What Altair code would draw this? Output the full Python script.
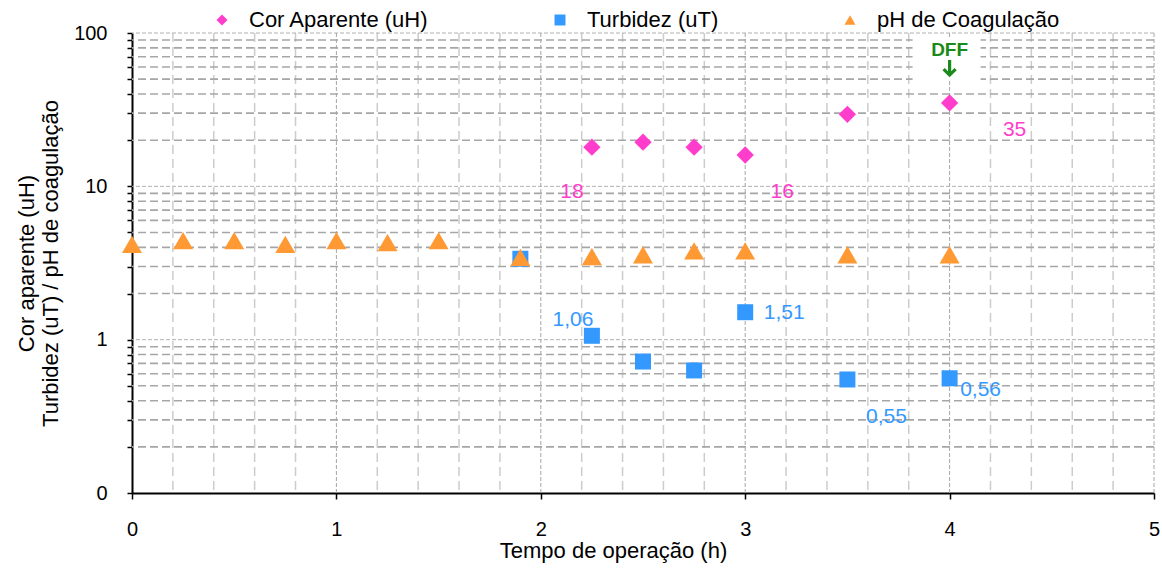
import altair as alt
import pandas as pd

# Operating time (h) and measurements per series
t_cor = [2.25, 2.5, 2.75, 3.0, 3.5, 4.0]
cor = [18, 19.4, 18, 16, 29.5, 35]

t_turb = [1.9, 2.25, 2.5, 2.75, 3.0, 3.5, 4.0]
turb = [3.37, 1.06, 0.72, 0.63, 1.51, 0.55, 0.56]

t_ph = [0, 0.25, 0.5, 0.75, 1.0, 1.25, 1.5, 1.9, 2.25, 2.5, 2.75, 3.0, 3.5, 4.0]
ph = [4.18, 4.43, 4.43, 4.18, 4.43, 4.29, 4.43, 3.44, 3.48, 3.58, 3.79, 3.79, 3.58, 3.58]

series = ["Cor Aparente (uH)", "Turbidez (uT)", "pH de Coagulação"]
colors = ["#ff3dcc", "#3399ff", "#ff9933"]
shapes = ["diamond", "square", "triangle-up"]
sizes = [300, 256, 400]

# Value labels (series index, time, value, text)
lab_series = [0, 0, 0, 1, 1, 1, 1]
lab_t = [2.25, 3.0, 4.0, 2.25, 3.0, 3.5, 4.0]
lab_v = [18, 16, 35, 1.06, 1.51, 0.55, 0.56]
lab_text = ["18", "16", "35", "1,06", "1,51", "0,55", "0,56"]

# Grid positions
x_major = [1, 2, 3, 4, 5]
x_minor = [round(i * 0.2, 1) for i in range(1, 25) if i % 5 != 0]
y_major = [1, 10, 100]
y_minor = [round(m * 10 ** e, 3) for e in (-1, 0, 1) for m in range(2, 10)]
y_ticks = sorted([0.1] + y_minor + y_major)

FONT = "Liberation Sans"
GREEN = "#1a8a1a"

rows = []
for s, ts, vs in zip(series, [t_cor, t_turb, t_ph], [cor, turb, ph]):
    for t, v in zip(ts, vs):
        rows.append({"serie": s, "t": t, "v": v})
df = pd.DataFrame(rows)

X = alt.X(
    "t:Q",
    scale=alt.Scale(domain=[0, 5], nice=False, zero=False),
    axis=alt.Axis(
        values=[0, 1, 2, 3, 4, 5], format="d", grid=False,
        title="Tempo de operação (h)", titleX=481,
        tickSize=6, labelPadding=20, titlePadding=1,
    ),
)
Y = alt.Y(
    "v:Q",
    scale=alt.Scale(type="log", domain=[0.1, 100], nice=False),
    axis=alt.Axis(
        values=y_ticks, grid=False, labelOverlap=False,
        labelExpr="datum.value < 0.15 ? '0' : (datum.value == 1 ? '1' : (datum.value == 10 ? '10' : (datum.value == 100 ? '100' : '')))",
        title=["Cor aparente (uH)", "Turbidez (uT) / pH de coagulação"],
        tickSize=5, labelPadding=20, titlePadding=11,
    ),
)

hminor = alt.Chart(pd.DataFrame({"v": y_minor})).mark_rule(
    color="#a6a6a6", strokeWidth=1.6, strokeDash=[8, 4]).encode(y=Y)
hmajor = alt.Chart(pd.DataFrame({"v": y_major})).mark_rule(
    color="#b0b0b0", strokeWidth=1, strokeDash=[4, 2]).encode(y=Y)
vminor = alt.Chart(pd.DataFrame({"t": x_minor})).mark_rule(
    color="#cccccc", strokeWidth=1.5, strokeDash=[9, 5]).encode(x=X)
vmajor = alt.Chart(pd.DataFrame({"t": x_major})).mark_rule(
    color="#a6a6a6", strokeWidth=1, strokeDash=[4, 2]).encode(x=X)

# DFF marker above the last colour reading: white panel, label and arrow
dff_df = pd.DataFrame({"t": [t_cor[-1]], "v": [cor[-1]], "txt": ["DFF"]})
dff_bg = alt.Chart(dff_df).mark_point(
    shape="M-1,-0.63H1V0.63H-1Z", size=68 * 68, filled=True,
    color="white", opacity=1, yOffset=-44, xOffset=-3,
).encode(x=X, y=Y)

legend = alt.Legend(
    title=None, orient="none", legendX=79, legendY=-24, direction="horizontal",
    symbolSize=120, labelOffset=16, columnPadding=120, labelLimit=0,
    labelFont=FONT, labelFontSize=22, labelColor="black", symbolStrokeWidth=0,
)
color = alt.Color("serie:N", scale=alt.Scale(domain=series, range=colors), legend=legend)
shape = alt.Shape("serie:N", scale=alt.Scale(domain=series, range=shapes), legend=legend)

point_layers = []
for s, sz in zip(series, sizes):
    point_layers.append(
        alt.Chart(df).transform_filter(alt.datum.serie == s)
        .mark_point(filled=True, size=sz, opacity=1)
        .encode(x=X, y=Y, color=color, shape=shape)
    )

# Label placement offsets (pixels)
lab_dx = [-20, 37, 65, -19, 39, 39, 31]
lab_dy = [45, 37, 27, -16, 1, 38, 12]
label_layers = []
for i in range(len(lab_text)):
    d = pd.DataFrame({"t": [lab_t[i]], "v": [lab_v[i]], "txt": [lab_text[i]]})
    label_layers.append(
        alt.Chart(d).mark_text(
            dx=lab_dx[i], dy=lab_dy[i], font=FONT, fontSize=21,
            color=colors[lab_series[i]], align="center", baseline="middle",
        ).encode(x=X, y=Y, text="txt:N")
    )

dff_text = alt.Chart(dff_df).mark_text(
    dy=-53, font=FONT, fontSize=19, fontWeight="bold", color=GREEN,
    align="center", baseline="middle",
).encode(x=X, y=Y, text="txt:N")
dff_arrow = alt.Chart(dff_df).mark_point(
    shape="M0,-1V0.9M-0.75,0.15L0,0.9L0.75,0.15", size=16 * 16,
    filled=False, color=GREEN, strokeWidth=3.2, opacity=1,
    yOffset=-35,
).encode(x=X, y=Y)

chart = alt.layer(
    vminor, vmajor, hminor, hmajor, dff_bg,
    *point_layers, *label_layers, dff_text, dff_arrow,
).properties(
    width=1022, height=460,
    padding={"left": 132, "top": 33, "right": 8, "bottom": 75},
    autosize=alt.AutoSizeParams(type="none"),
    background="white",
).configure_view(stroke=None).configure_axis(
    domainColor="black", domainWidth=2, tickColor="black", tickWidth=1.5,
    labelFont=FONT, labelFontSize=20, labelColor="black",
    titleFont=FONT, titleFontSize=22, titleFontWeight="normal", titleColor="black",
    labelFlush=False,
)

chart.save("out.html", embed_options={"renderer": "svg", "actions": False})
